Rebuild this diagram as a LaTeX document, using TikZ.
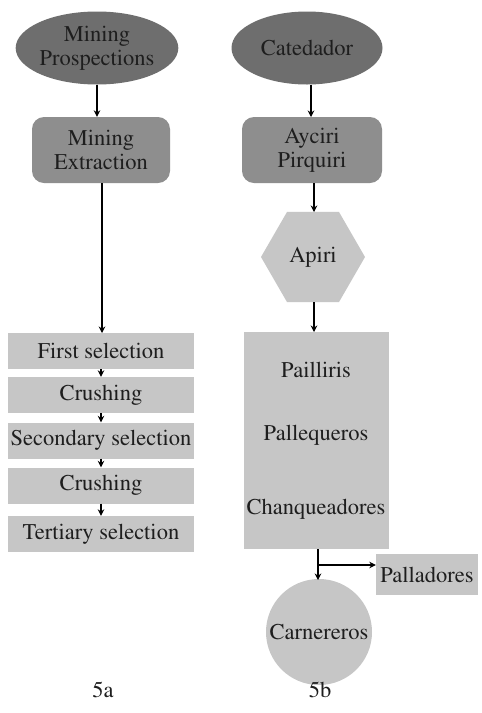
\documentclass[tikz,border=0pt]{standalone}
\usepackage[T1]{fontenc}
\renewcommand{\rmdefault}{ptm}
\usetikzlibrary{shapes.geometric,arrows.meta}
\definecolor{dark}{HTML}{6E6E6E}
\definecolor{mid}{HTML}{8E8E8E}
\definecolor{light}{HTML}{C6C6C6}
\definecolor{txt}{HTML}{1E1E1E}
\tikzset{
  lbl/.style={font=\rmfamily\fontsize{22.5}{25}\selectfont, text=txt, align=center, inner sep=0pt},
  ell/.style={lbl, ellipse, fill=dark, minimum width=151pt, minimum height=73pt},
  rbox/.style={lbl, rounded corners=12pt, fill=mid, minimum width=138pt, minimum height=66pt},
  sbox/.style={lbl, fill=light, minimum width=186pt, minimum height=36pt},
  conn/.style={line width=1.2pt, -{Stealth[length=6.5pt,width=6.5pt]}},
}
\begin{document}
\begin{tikzpicture}[x=1pt,y=-1pt]
\useasboundingbox (0,0) rectangle (482,713);
\fill[white] (0,0) rectangle (482,713);
% left column
\node[ell] (mp) at (97,48) {Mining\\[-1pt]Prospections};
\node[rbox] (me) at (101,150) {Mining\\[-1pt]Extraction};
\node[sbox] (s1) at (101,351) {First selection};
\node[sbox] (c1) at (101,395) {Crushing};
\node[sbox] (s2) at (101,440.5) {Secondary selection};
\node[sbox] (c2) at (101,485.5) {Crushing};
\node[sbox] (s3) at (101,534) {Tertiary selection};
\draw[conn] (mp.south) -- (mp.south |- me.north);
\draw[conn] (me.south -| 102,0) -- (102,333);
\draw[conn] (s1.south) -- (c1.north);
\draw[conn] (c1.south) -- (s2.north);
\draw[conn] (s2.south) -- (c2.north);
\draw[conn] (c2.south) -- (s3.north);
\node[lbl] (la) at (103,690) {5a};
% right column
\node[ell] (ca) at (307,48) {Catedador};
\node[rbox, minimum width=140pt] (ap) at (312,150) {Ayciri\\[-1pt]Pirquiri};
\node[lbl, regular polygon, regular polygon sides=6, shape border rotate=0, fill=light, minimum width=104pt] (hx) at (313,257) {};
\node[lbl] at (313,257) {Apiri};
\node[lbl, fill=light, minimum width=145pt, minimum height=217pt] (big) at (316.5,440.5) {};
\node[lbl] (t1) at (316,370) {Pailliris};
\node[lbl] (t2) at (316,435) {Pallequeros};
\node[lbl] (t3) at (316,509) {Chanqueadores};
\node[lbl, fill=light, minimum width=102pt, minimum height=41pt] (pd) at (427,574.5) {Palladores};
\node[lbl, circle, fill=light, minimum size=106pt] (cr) at (319,632) {Carnereros};
\node[lbl] (lb) at (320,690) {5b};
\coordinate (j) at (318,565);
\draw[conn] (ca.south -| 311,0) -- (311,117);
\draw[conn] (ap.south -| 314,0) -- (314,212);
\draw[conn] (hx.south -| 314,0) -- (314,332);
\draw[conn] (big.south -| 318,0) -- (318,580);
\draw[conn] (j) -- (j -| pd.west);
\end{tikzpicture}
\end{document}
